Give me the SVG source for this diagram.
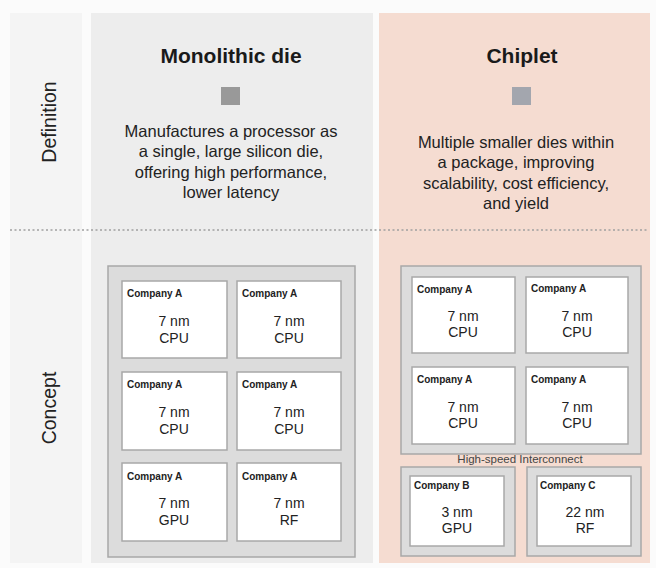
<svg xmlns="http://www.w3.org/2000/svg" width="656" height="568" viewBox="0 0 656 568">
<style>
text{font-family:"Liberation Sans",Arial,sans-serif;fill:#1a1a1a}
.title{font-size:21px;font-weight:bold;text-anchor:middle}
.desc{font-size:16.5px;text-anchor:middle;fill:#222}
.side{font-size:19.5px;text-anchor:middle;fill:#222}
.pkg{fill:#dcdcdc;stroke:#a8a8a8;stroke-width:1.5}
.die{fill:#fff;stroke:#a8a8a8;stroke-width:1.5}
.co{font-size:10px;font-weight:bold;fill:#222}
.spec{font-size:14px;text-anchor:middle;fill:#222}
.ic{font-size:11.5px;text-anchor:middle;fill:#444}
</style>
<rect width="656" height="568" fill="#fbfbfb"/>
<g id="panels">
<rect x="10" y="13" width="72" height="550" fill="#f4f4f4"/>
<rect x="91" y="13" width="282" height="550" fill="#ededed"/>
<rect x="379" y="13" width="271" height="550" fill="#f5dcd1"/>
</g>
<g id="labels">
<text class="side" transform="translate(56,122) rotate(-90)">Definition</text>
<text class="side" transform="translate(56,408) rotate(-90)">Concept</text>
</g>
<g id="monolithic-def">
<text class="title" x="231" y="63">Monolithic die</text>
<rect x="221" y="87" width="19" height="18" fill="#999"/>
<text class="desc" x="231" y="137">Manufactures a processor as</text>
<text class="desc" x="231" y="157">a single, large silicon die,</text>
<text class="desc" x="231" y="178">offering high performance,</text>
<text class="desc" x="231" y="198">lower latency</text>
</g>
<g id="chiplet-def">
<text class="title" x="522" y="63">Chiplet</text>
<rect x="512" y="87" width="19" height="18" fill="#a3a6ae"/>
<text class="desc" x="516" y="148">Multiple smaller dies within</text>
<text class="desc" x="516" y="168">a package, improving</text>
<text class="desc" x="516" y="189">scalability, cost efficiency,</text>
<text class="desc" x="516" y="209">and yield</text>
</g>
<g id="divider">
<line x1="10" y1="230" x2="648" y2="230" stroke="#a0a0a0" stroke-width="1.5" stroke-dasharray="2 2.5"/>
</g>
<g id="monolithic-concept">
<rect class="pkg" x="108" y="266" width="247" height="291"/>
<g id="m1"><rect class="die" x="122" y="281" width="105" height="77"/><text class="co" x="127" y="297">Company A</text><text class="spec" x="174" y="326">7 nm</text><text class="spec" x="174" y="343">CPU</text></g>
<g id="m2"><rect class="die" x="237" y="281" width="104" height="77"/><text class="co" x="242" y="297">Company A</text><text class="spec" x="289" y="326">7 nm</text><text class="spec" x="289" y="343">CPU</text></g>
<g id="m3"><rect class="die" x="122" y="372" width="105" height="78"/><text class="co" x="127" y="388">Company A</text><text class="spec" x="174" y="417">7 nm</text><text class="spec" x="174" y="434">CPU</text></g>
<g id="m4"><rect class="die" x="237" y="372" width="104" height="78"/><text class="co" x="242" y="388">Company A</text><text class="spec" x="289" y="417">7 nm</text><text class="spec" x="289" y="434">CPU</text></g>
<g id="m5"><rect class="die" x="122" y="463" width="105" height="78"/><text class="co" x="127" y="480">Company A</text><text class="spec" x="174" y="508">7 nm</text><text class="spec" x="174" y="525">GPU</text></g>
<g id="m6"><rect class="die" x="237" y="463" width="104" height="78"/><text class="co" x="242" y="480">Company A</text><text class="spec" x="289" y="508">7 nm</text><text class="spec" x="289" y="525">RF</text></g>
</g>
<g id="chiplet-concept">
<rect class="pkg" x="401" y="266" width="240" height="188"/>
<g id="c1"><rect class="die" x="412" y="277" width="103" height="76"/><text class="co" x="417" y="293">Company A</text><text class="spec" x="463" y="321">7 nm</text><text class="spec" x="463" y="337">CPU</text></g>
<g id="c2"><rect class="die" x="526" y="277" width="102" height="76"/><text class="co" x="531" y="292">Company A</text><text class="spec" x="577" y="321">7 nm</text><text class="spec" x="577" y="337">CPU</text></g>
<g id="c3"><rect class="die" x="412" y="367" width="103" height="77"/><text class="co" x="417" y="383">Company A</text><text class="spec" x="463" y="412">7 nm</text><text class="spec" x="463" y="428">CPU</text></g>
<g id="c4"><rect class="die" x="526" y="367" width="102" height="77"/><text class="co" x="531" y="383">Company A</text><text class="spec" x="577" y="412">7 nm</text><text class="spec" x="577" y="428">CPU</text></g>
<text class="ic" x="520" y="463">High-speed Interconnect</text>
<g id="cB"><rect class="pkg" x="401" y="467" width="114" height="89"/><rect class="die" x="410" y="476" width="94" height="70"/><text class="co" x="414" y="489">Company B</text><text class="spec" x="457" y="517">3 nm</text><text class="spec" x="457" y="533">GPU</text></g>
<g id="cC"><rect class="pkg" x="527" y="467" width="114" height="89"/><rect class="die" x="537" y="476" width="94" height="70"/><text class="co" x="540" y="489">Company C</text><text class="spec" x="585" y="517">22 nm</text><text class="spec" x="585" y="533">RF</text></g>
</g>
</svg>
